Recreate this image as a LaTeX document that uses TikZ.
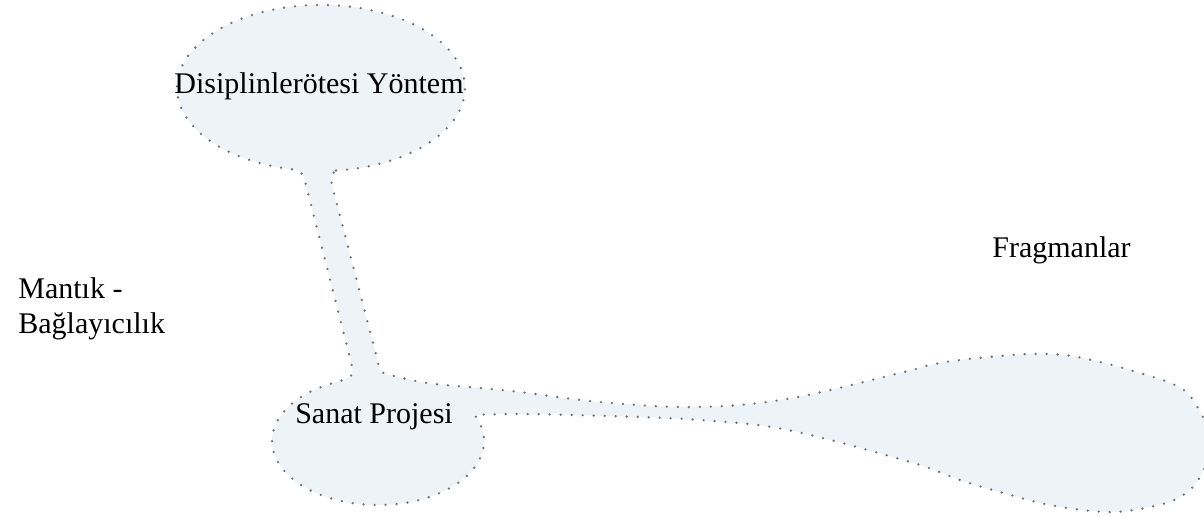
\documentclass[tikz,border=0pt]{standalone}
\usepackage{fontspec}
\setmainfont{Liberation Serif}
\definecolor{blobfill}{RGB}{237,243,246}
\definecolor{blobdot}{RGB}{115,115,115}

\begin{document}
\begin{tikzpicture}[x=0.5pt,y=-0.5pt,
  blob/.style={fill=blobfill,draw=blobdot,line width=1.3pt,line cap=round,dash pattern=on 0pt off 5.5pt},
  txt/.style={inner sep=0pt,font=\fontsize{15}{17.5}\selectfont}]
% Fix the page size
\useasboundingbox (0,0) rectangle (1204,517);

% Joined bubble: top ellipse, stem, bottom ellipse and the long drop
\begin{scope}
\clip (0,0) rectangle (1204,517);
\draw[blob] (336,170.5) arc[start angle=84,end angle=-260,x radius=144,y radius=83]
  .. controls (303,173) .. (307,189) -- (351,362)
  .. controls (354,376) .. (338.3,381.7)
  arc[start angle=-112,end angle=-384,x radius=106,y radius=64]
  -- plot[smooth,tension=0.6] coordinates {(474.8,415) (520,414) (607,416) (700,420)
     (788,430) (910,462) (960,480) (1000,492) (1050,505) (1107,512) (1150,507)
     (1180,497) (1200,477) (1211,440) (1193,400) (1175,385) (1140,373) (1100,362)
     (1065,355) (1030,354) (1000,356) (960,360) (930,365) (900,373) (787,399)
     (695,407) (600,402) (520,392) (480,388) (427,383) (386,374)}
  .. controls (379,371) .. (378,362) -- (333,189)
  .. controls (330,176) .. (336,170.5) -- cycle;
\end{scope}

% Texts
\node[txt,anchor=base] (yontem) at (319,94) {Disiplinlerötesi Yöntem};
\node[txt,anchor=base] (proje) at (374,424) {Sanat Projesi};
\node[txt,anchor=north west,align=left] (mantik) at (18,277) {Mantık -\\Bağlayıcılık};
\node[txt,anchor=base west] (fragman) at (992,258) {Fragmanlar};
\end{tikzpicture}
\end{document}
